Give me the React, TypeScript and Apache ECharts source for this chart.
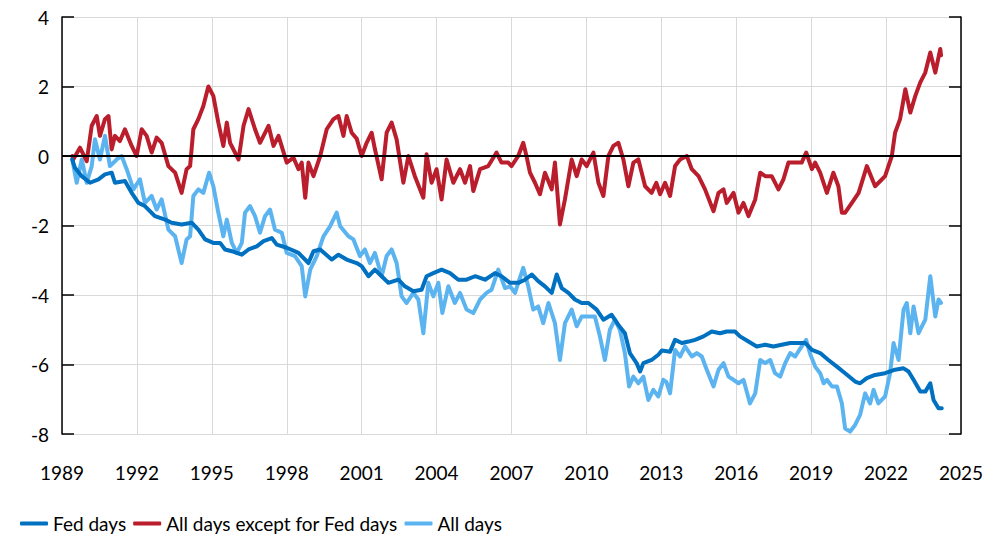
import React, { useEffect, useRef } from "react";
import * as echarts from "echarts";

const xMin = 1989;
const xMax = 2025;
const xStep = 3;
const yMin = -8;
const yMax = 4;
const yStep = 2;

const seriesNames = ["Fed days", "All days except for Fed days", "All days"];
const seriesColors = ["#0070C0", "#BA1D2B", "#5BB4F0"];

const fedDays: [number, number][] = [
  [1989.41, -0.1], [1989.52, -0.34], [1989.79, -0.58], [1990.12, -0.77], [1990.46, -0.67], [1990.72, -0.53],
  [1990.99, -0.48], [1991.12, -0.77], [1991.52, -0.72], [1991.79, -1.06], [1992.06, -1.35], [1992.32, -1.44],
  [1992.72, -1.73], [1993.13, -1.83], [1993.39, -1.92], [1993.79, -1.97], [1994.19, -1.92], [1994.46, -2.12],
  [1994.73, -2.4], [1995.06, -2.5], [1995.33, -2.5], [1995.53, -2.69], [1995.8, -2.74], [1996.2, -2.84],
  [1996.47, -2.69], [1996.8, -2.6], [1997.07, -2.45], [1997.4, -2.36], [1997.6, -2.55], [1998.0, -2.64],
  [1998.47, -2.79], [1998.87, -3.08], [1999.07, -2.74], [1999.34, -2.69], [1999.8, -2.98], [2000.07, -2.84],
  [2000.4, -2.98], [2000.8, -3.08], [2001.0, -3.17], [2001.27, -3.46], [2001.53, -3.27], [2001.8, -3.46],
  [2002.07, -3.65], [2002.47, -3.56], [2002.73, -3.75], [2003.07, -3.89], [2003.4, -3.85], [2003.6, -3.46],
  [2003.87, -3.37], [2004.2, -3.27], [2004.54, -3.37], [2004.87, -3.56], [2005.2, -3.56], [2005.54, -3.46],
  [2005.94, -3.56], [2006.34, -3.37], [2006.6, -3.46], [2006.94, -3.65], [2007.27, -3.65], [2007.54, -3.56],
  [2007.81, -3.41], [2008.07, -3.6], [2008.34, -3.75], [2008.61, -3.94], [2008.81, -3.41], [2009.01, -3.8],
  [2009.28, -3.94], [2009.54, -4.13], [2009.81, -4.23], [2010.08, -4.23], [2010.41, -4.42], [2010.68, -4.71],
  [2011.01, -4.57], [2011.28, -4.86], [2011.54, -5.1], [2011.74, -5.67], [2012.01, -5.96], [2012.15, -6.2],
  [2012.28, -5.96], [2012.61, -5.87], [2012.88, -5.72], [2013.02, -5.6], [2013.35, -5.63], [2013.55, -5.29],
  [2013.82, -5.38], [2014.09, -5.34], [2014.35, -5.29], [2014.69, -5.19], [2015.02, -5.05], [2015.35, -5.1],
  [2015.62, -5.05], [2015.95, -5.05], [2016.15, -5.19], [2016.49, -5.34], [2016.82, -5.48], [2017.16, -5.43],
  [2017.49, -5.48], [2017.82, -5.43], [2018.16, -5.38], [2018.49, -5.38], [2018.76, -5.38], [2019.03, -5.58],
  [2019.36, -5.67], [2019.69, -5.87], [2020.03, -6.06], [2020.36, -6.25], [2020.76, -6.49], [2020.96, -6.54],
  [2021.23, -6.39], [2021.56, -6.3], [2021.96, -6.25], [2022.36, -6.15], [2022.7, -6.11], [2022.9, -6.2],
  [2023.1, -6.44], [2023.37, -6.78], [2023.57, -6.78], [2023.77, -6.54], [2023.9, -7.02], [2024.1, -7.26],
  [2024.23, -7.26],
];

const exceptFedDays: [number, number][] = [
  [1989.42, 0], [1989.45, -0.1], [1989.72, 0.24], [1989.99, -0.15], [1990.19, 0.87], [1990.39, 1.15],
  [1990.52, 0.58], [1990.72, 1.06], [1990.86, 1.15], [1990.99, 0.19], [1991.12, 0.58], [1991.32, 0.43],
  [1991.52, 0.77], [1991.79, 0.29], [1991.99, 0], [1992.19, 0.77], [1992.39, 0.58], [1992.59, 0.1],
  [1992.79, 0.53], [1992.99, 0.38], [1993.26, -0.29], [1993.53, -0.48], [1993.79, -1.06], [1993.99, -0.38],
  [1994.13, -0.29], [1994.26, 0.77], [1994.46, 1.06], [1994.66, 1.44], [1994.86, 2.0], [1995.06, 1.73],
  [1995.26, 0.96], [1995.46, 0.29], [1995.6, 0.96], [1995.73, 0.38], [1996.07, -0.1], [1996.27, 0.87],
  [1996.47, 1.35], [1996.73, 0.77], [1996.93, 0.38], [1997.27, 0.87], [1997.47, 0.29], [1997.67, 0.58],
  [1998.0, -0.19], [1998.27, -0.05], [1998.47, -0.38], [1998.6, -0.19], [1998.74, -1.2], [1998.87, -0.19],
  [1999.07, -0.58], [1999.34, 0], [1999.6, 0.77], [1999.87, 1.06], [2000.07, 1.15], [2000.27, 0.58],
  [2000.4, 1.15], [2000.6, 0.67], [2000.8, 0.5], [2001.0, 0], [2001.2, 0.38], [2001.4, 0.67],
  [2001.53, 0.2], [2001.8, -0.67], [2002.0, 0.67], [2002.2, 0.96], [2002.4, 0.48], [2002.67, -0.77],
  [2002.87, 0], [2003.13, -0.58], [2003.47, -1.2], [2003.6, 0.05], [2003.8, -0.77], [2004.0, -0.38],
  [2004.2, -1.25], [2004.4, -0.1], [2004.67, -0.77], [2004.94, -0.38], [2005.14, -0.77], [2005.34, -0.29],
  [2005.47, -1.01], [2005.74, -0.38], [2006.07, -0.29], [2006.4, 0.1], [2006.6, -0.19], [2006.87, -0.19],
  [2007.0, -0.29], [2007.27, 0], [2007.47, 0.38], [2007.6, 0], [2007.74, -0.48], [2007.94, -0.77],
  [2008.14, -1.1], [2008.34, -0.48], [2008.61, -0.96], [2008.74, -0.19], [2008.94, -1.97], [2009.14, -1.25],
  [2009.41, -0.1], [2009.61, -0.58], [2009.81, -0.1], [2010.01, -0.29], [2010.28, 0.1], [2010.48, -0.77],
  [2010.68, -1.15], [2010.88, 0], [2011.08, 0.29], [2011.28, 0.38], [2011.48, -0.1], [2011.68, -0.87],
  [2011.88, -0.19], [2012.08, -0.1], [2012.35, -0.87], [2012.61, -1.06], [2012.8, -0.77], [2012.95, -1.1],
  [2013.15, -0.77], [2013.35, -1.15], [2013.55, -0.29], [2013.75, -0.1], [2014.02, 0], [2014.22, -0.38],
  [2014.49, -0.58], [2014.75, -0.96], [2015.09, -1.59], [2015.29, -1.06], [2015.49, -0.96], [2015.62, -1.35],
  [2015.89, -1.06], [2016.09, -1.63], [2016.29, -1.35], [2016.49, -1.73], [2016.76, -1.25], [2016.96, -0.48],
  [2017.16, -0.58], [2017.42, -0.58], [2017.69, -0.96], [2017.89, -0.67], [2018.09, -0.19], [2018.36, -0.19],
  [2018.62, -0.19], [2018.8, 0.1], [2019.03, -0.38], [2019.16, -0.19], [2019.36, -0.48], [2019.63, -1.06],
  [2019.89, -0.48], [2020.09, -0.87], [2020.23, -1.63], [2020.36, -1.63], [2020.63, -1.35], [2020.9, -1.06],
  [2021.23, -0.29], [2021.56, -0.87], [2021.96, -0.58], [2022.23, 0], [2022.36, 0.67], [2022.56, 1.06],
  [2022.77, 1.92], [2022.97, 1.25], [2023.17, 1.73], [2023.37, 2.12], [2023.57, 2.4], [2023.77, 2.98],
  [2023.97, 2.4], [2024.17, 3.08], [2024.2, 2.9],
];

const allDays: [number, number][] = [
  [1989.41, -0.1], [1989.59, -0.77], [1989.79, -0.1], [1989.99, -0.77], [1990.19, -0.29], [1990.32, 0.48],
  [1990.52, -0.1], [1990.72, 0.58], [1990.92, -0.29], [1991.19, -0.1], [1991.39, 0], [1991.59, -0.38],
  [1991.86, -0.96], [1992.12, -0.67], [1992.32, -1.35], [1992.59, -1.15], [1992.79, -1.54], [1992.99, -1.25],
  [1993.26, -2.12], [1993.53, -2.31], [1993.79, -3.08], [1993.99, -2.4], [1994.13, -2.31], [1994.26, -1.15],
  [1994.46, -0.96], [1994.66, -1.06], [1994.89, -0.48], [1995.06, -0.87], [1995.26, -1.63], [1995.46, -2.31],
  [1995.6, -1.83], [1995.8, -2.5], [1996.0, -2.79], [1996.2, -2.5], [1996.33, -1.63], [1996.53, -1.44],
  [1996.73, -1.73], [1996.93, -2.21], [1997.13, -1.73], [1997.33, -1.54], [1997.53, -2.12], [1997.8, -2.21],
  [1998.0, -2.79], [1998.33, -2.88], [1998.6, -3.17], [1998.74, -4.04], [1998.94, -3.27], [1999.2, -2.88],
  [1999.47, -2.31], [1999.74, -2.02], [2000.0, -1.63], [2000.14, -2.02], [2000.47, -2.31], [2000.67, -2.4],
  [2000.93, -2.88], [2001.13, -2.69], [2001.33, -3.08], [2001.53, -2.79], [2001.8, -3.46], [2002.0, -2.88],
  [2002.2, -2.69], [2002.4, -3.08], [2002.6, -4.04], [2002.8, -4.23], [2003.07, -3.94], [2003.27, -4.13],
  [2003.47, -5.1], [2003.67, -3.65], [2003.87, -4.04], [2004.07, -3.65], [2004.23, -4.52], [2004.47, -3.75],
  [2004.73, -4.23], [2004.94, -3.94], [2005.2, -4.42], [2005.47, -4.52], [2005.74, -4.13], [2006.0, -3.94],
  [2006.2, -3.85], [2006.47, -3.27], [2006.74, -3.8], [2006.94, -3.75], [2007.14, -3.94], [2007.47, -3.22],
  [2007.67, -3.75], [2007.87, -4.42], [2008.07, -4.33], [2008.27, -4.81], [2008.48, -4.23], [2008.74, -4.81],
  [2008.94, -5.87], [2009.14, -4.81], [2009.41, -4.42], [2009.61, -4.9], [2009.81, -4.62], [2010.08, -4.62],
  [2010.34, -4.62], [2010.54, -5.19], [2010.74, -5.87], [2010.94, -5.0], [2011.14, -4.71], [2011.34, -5.0],
  [2011.54, -5.67], [2011.71, -6.63], [2011.88, -6.35], [2012.08, -6.54], [2012.28, -6.35], [2012.48, -7.02],
  [2012.68, -6.73], [2012.88, -6.92], [2013.08, -6.44], [2013.2, -6.5], [2013.35, -6.83], [2013.55, -5.58],
  [2013.75, -5.77], [2013.95, -5.48], [2014.22, -5.77], [2014.42, -5.67], [2014.62, -5.77], [2014.82, -6.15],
  [2015.09, -6.63], [2015.29, -6.15], [2015.49, -5.96], [2015.69, -6.35], [2015.89, -6.44], [2016.09, -6.54],
  [2016.29, -6.44], [2016.55, -7.12], [2016.76, -6.83], [2016.96, -5.87], [2017.16, -5.96], [2017.36, -5.87],
  [2017.55, -6.25], [2017.76, -6.35], [2017.96, -5.96], [2018.16, -5.67], [2018.36, -5.77], [2018.62, -5.48],
  [2018.8, -5.29], [2018.96, -5.7], [2019.16, -6.06], [2019.36, -6.25], [2019.5, -6.54], [2019.63, -6.44],
  [2019.83, -6.63], [2020.03, -6.63], [2020.23, -7.12], [2020.36, -7.84], [2020.56, -7.93], [2020.76, -7.74],
  [2020.96, -7.45], [2021.16, -6.83], [2021.36, -7.12], [2021.5, -6.73], [2021.69, -7.12], [2021.96, -6.92],
  [2022.16, -6.25], [2022.3, -5.38], [2022.5, -5.87], [2022.7, -4.42], [2022.83, -4.23], [2022.97, -5.1],
  [2023.1, -4.33], [2023.3, -5.1], [2023.57, -4.71], [2023.77, -3.46], [2023.97, -4.62], [2024.1, -4.13],
  [2024.2, -4.23],
];

const FONT = "Lato, 'Noto Sans', sans-serif";
const FONT_SIZE = 19;

export default function App() {
  const ref = useRef<HTMLDivElement>(null);

  useEffect(() => {
    if (!ref.current) return;
    const chart = echarts.init(ref.current, null, { renderer: "svg" });
    const grey = "#D9D9D9";
    const dataSets = [fedDays, exceptFedDays, allDays];
    const zs = [5, 4, 3];
    chart.setOption({
      animation: false,
      backgroundColor: "#ffffff",
      textStyle: { fontFamily: FONT },
      grid: { left: 62, right: 39, top: 17, bottom: 122, containLabel: false, outerBoundsMode: "none" },
      legend: {
        left: 15,
        top: 509,
        itemWidth: 28,
        itemHeight: 4,
        itemGap: 7,
        icon: "roundRect",
        data: seriesNames,
        textStyle: { fontFamily: FONT, fontSize: FONT_SIZE, color: "#000" },
      },
      xAxis: {
        type: "value",
        min: xMin,
        max: xMax,
        interval: xStep,
        axisLine: { show: false },
        axisTick: { show: false },
        splitLine: { show: true, lineStyle: { color: grey, width: 1 } },
        axisLabel: {
          color: "#000",
          fontSize: FONT_SIZE,
          fontFamily: FONT,
          margin: 29,
          formatter: (v: number) => String(v),
        },
      },
      yAxis: [
        {
          type: "value",
          min: yMin,
          max: yMax,
          interval: yStep,
          position: "left",
          axisLine: { show: true, onZero: false, lineStyle: { color: "#000", width: 1.5 } },
          axisTick: { show: true, inside: true, length: 12, lineStyle: { color: "#000", width: 1.5 } },
          splitLine: { show: true, lineStyle: { color: grey, width: 1 } },
          axisLabel: { color: "#000", fontSize: FONT_SIZE, fontFamily: FONT, margin: 13 },
        },
        {
          type: "value",
          min: yMin,
          max: yMax,
          interval: yStep,
          position: "right",
          axisLine: { show: true, onZero: false, lineStyle: { color: "#000", width: 1.5 } },
          axisTick: { show: true, inside: true, length: 12, lineStyle: { color: "#000", width: 1.5 } },
          splitLine: { show: false },
          axisLabel: { show: false },
        },
      ],
      series: [
        {
          type: "line",
          name: "zero",
          data: [],
          z: 1,
          silent: true,
          markLine: {
            silent: true,
            symbol: "none",
            label: { show: false },
            lineStyle: { color: "#000", width: 2, type: "solid" },
            data: [{ yAxis: 0 }],
          },
        },
        ...seriesNames.map((name, i) => ({
          type: "line",
          name,
          data: dataSets[i],
          showSymbol: false,
          symbol: "none",
          z: zs[i],
          color: seriesColors[i],
          lineStyle: { color: seriesColors[i], width: 4, cap: "round", join: "round" },
        })),
      ],
    });
    return () => chart.dispose();
  }, []);

  return (
    <div
      ref={ref}
      style={{ position: "absolute", left: 0, top: 0, width: 1000, height: 556, background: "#fff" }}
    />
  );
}
